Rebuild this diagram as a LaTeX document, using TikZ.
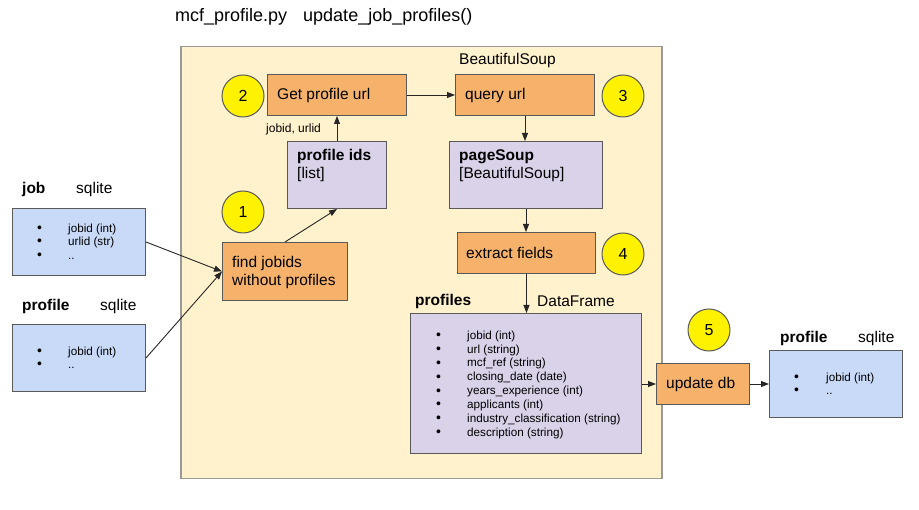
\documentclass[tikz,border=0pt]{standalone}
\usepackage{fontspec}
\setmainfont{Liberation Sans}
\usetikzlibrary{arrows.meta}
\definecolor{orangebox}{HTML}{F6B26B}
\definecolor{purplebox}{HTML}{D9D2E9}
\definecolor{bluebox}{HTML}{C9DAF8}
\definecolor{bigbox}{HTML}{FFF2CC}
\definecolor{edgec}{HTML}{595959}
\definecolor{bigedge}{HTML}{999999}
\newcommand{\bul}[1]{\makebox[#1][l]{\raisebox{-0.3pt}{\fontsize{14}{14}\selectfont\textbullet}}}
\begin{document}
\begin{tikzpicture}[x=1pt,y=-1pt,
  boxbase/.style={draw=edgec, line width=1pt, anchor=north west, inner sep=0pt},
  obox/.style={boxbase, fill=orangebox},
  pbox/.style={boxbase, fill=purplebox},
  bbox/.style={boxbase, fill=bluebox},
  num/.style={circle, draw=edgec, line width=1pt, fill=yellow, minimum size=42pt, inner sep=0pt, font=\fontsize{16}{18}\selectfont},
  txt/.style={anchor=west, inner sep=0pt, font=\fontsize{15.5}{18}\selectfont, align=left},
  hdr/.style={anchor=west, inner sep=0pt, font=\fontsize{15.5}{18}\selectfont},
  hdrb/.style={anchor=west, inner sep=0pt, font=\fontsize{15.5}{18}\selectfont\bfseries},
  small/.style={anchor=west, inner sep=0pt, font=\fontsize{12}{14}\selectfont},
  lst/.style={anchor=north west, inner sep=0pt, align=left, font=\fontsize{11.7}{13.9}\selectfont},
  arr/.style={-{Triangle[length=8pt,width=6pt]}, line width=0.9pt, draw=black!85}
]
\useasboundingbox (0,0) rectangle (919,510);
\fill[white] (0,0) rectangle (919,510);

% title
\node[anchor=west, inner sep=0pt, font=\fontsize{18}{20}\selectfont] (title) at (175,17) {mcf\_profile.py\hspace{16pt}update\_job\_profiles()};

% big container
\node[draw=bigedge, fill=bigbox, line width=1.5pt, anchor=north west, minimum width=481pt, minimum height=432pt, inner sep=0pt] (big) at (180,46) {};

% step 2 / 3
\node[obox, minimum width=139pt, minimum height=41pt] (getu) at (267,74) {};
\node[txt] (getut) at (277,95) {Get profile url};
\node[obox, minimum width=139pt, minimum height=41pt] (query) at (455,74) {};
\node[txt] (queryt) at (465,95) {query url};
\node[hdr] (bslabel) at (459,60) {BeautifulSoup};
\node[num] (c2) at (243,96) {2};
\node[num] (c3) at (623,96) {3};

% profile ids
\node[pbox, minimum width=99pt, minimum height=67pt] (pids) at (287,141) {};
\node[txt, anchor=north west] (pidst) at (297,149.5) {\textbf{profile ids}\\{[}list{]}};
\node[small] (idlabel) at (266,129) {jobid, urlid};

% pageSoup
\node[pbox, minimum width=153pt, minimum height=67pt] (psoup) at (449,141) {};
\node[txt, anchor=north west] (psoupt) at (459,149.5) {\textbf{pageSoup}\\{[}BeautifulSoup{]}};

% step 1
\node[num] (c1) at (243,212) {1};
\node[obox, minimum width=125pt, minimum height=58pt] (find) at (222,242) {};
\node[txt] (findt) at (232,272) {find jobids\\without profiles};

% extract fields
\node[obox, minimum width=138pt, minimum height=41pt] (extract) at (457,232) {};
\node[txt] (extractt) at (466,253) {extract fields};
\node[num] (c4) at (623,254) {4};

% profiles DataFrame
\node[hdrb] (profl) at (415,301) {profiles};
\node[hdr] (dfl) at (537,301) {DataFrame};
\node[pbox, minimum width=231pt, minimum height=140pt] (profs) at (410,313) {};
\node[lst] (profslist) at (436,330.5) {%
\bul{31pt}jobid (int)\\
\bul{31pt}url (string)\\
\bul{31pt}mcf\_ref (string)\\
\bul{31pt}closing\_date (date)\\
\bul{31pt}years\_experience (int)\\
\bul{31pt}applicants (int)\\
\bul{31pt}industry\_classification (string)\\
\bul{31pt}description (string)};

% job table
\node[hdrb] (jobl) at (22,189) {job};
\node[hdr] (jobsq) at (76,189) {sqlite};
\node[bbox, minimum width=133pt, minimum height=67pt] (jobbox) at (12,208) {};
\node[lst, font=\fontsize{11.7}{13.5}\selectfont] (joblist) at (37,223.5) {%
\bul{31pt}jobid (int)\\
\bul{31pt}urlid (str)\\
\bul{31pt}..};

% profile table (left)
\node[hdrb] (profll) at (22,306) {profile};
\node[hdr] (proflsq) at (100,306) {sqlite};
\node[bbox, minimum width=133pt, minimum height=67pt] (lprof) at (12,324) {};
\node[lst, font=\fontsize{11.7}{13.5}\selectfont] (lproflist) at (37,346.5) {%
\bul{31pt}jobid (int)\\
\bul{31pt}..};

% update db
\node[num] (c5) at (709,330) {5};
\node[obox, minimum width=93pt, minimum height=41pt] (upd) at (656,363) {};
\node[txt] (updt) at (666,384) {update db};

% profile table (right)
\node[hdrb] (rprofl) at (780,338) {profile};
\node[hdr] (rprofsq) at (858,338) {sqlite};
\node[bbox, minimum width=133pt, minimum height=67pt] (rprof) at (769,350) {};
\node[lst, font=\fontsize{11.7}{13.5}\selectfont] (rproflist) at (794,372.5) {%
\bul{32pt}jobid (int)\\
\bul{32pt}..};

% connectors
\draw[arr] (jobbox.east) -- (find.west);
\draw[arr] (lprof.east) -- (find.west);
\draw[arr] (find.north) -- (pids.south);
\draw[arr] (pids.north) -- (getu.south);
\draw[arr] (getu.east) -- (query.west);
\draw[arr] (query.south) -- (query.south |- psoup.north);
\draw[arr] (psoup.south) -- (psoup.south |- extract.north);
\draw[arr] (extract.south) -- (extract.south |- profs.north);
\draw[arr] (profs.east |- upd.west) -- (upd.west);
\draw[arr] (upd.east) -- (upd.east -| rprof.west);
\end{tikzpicture}
\end{document}
